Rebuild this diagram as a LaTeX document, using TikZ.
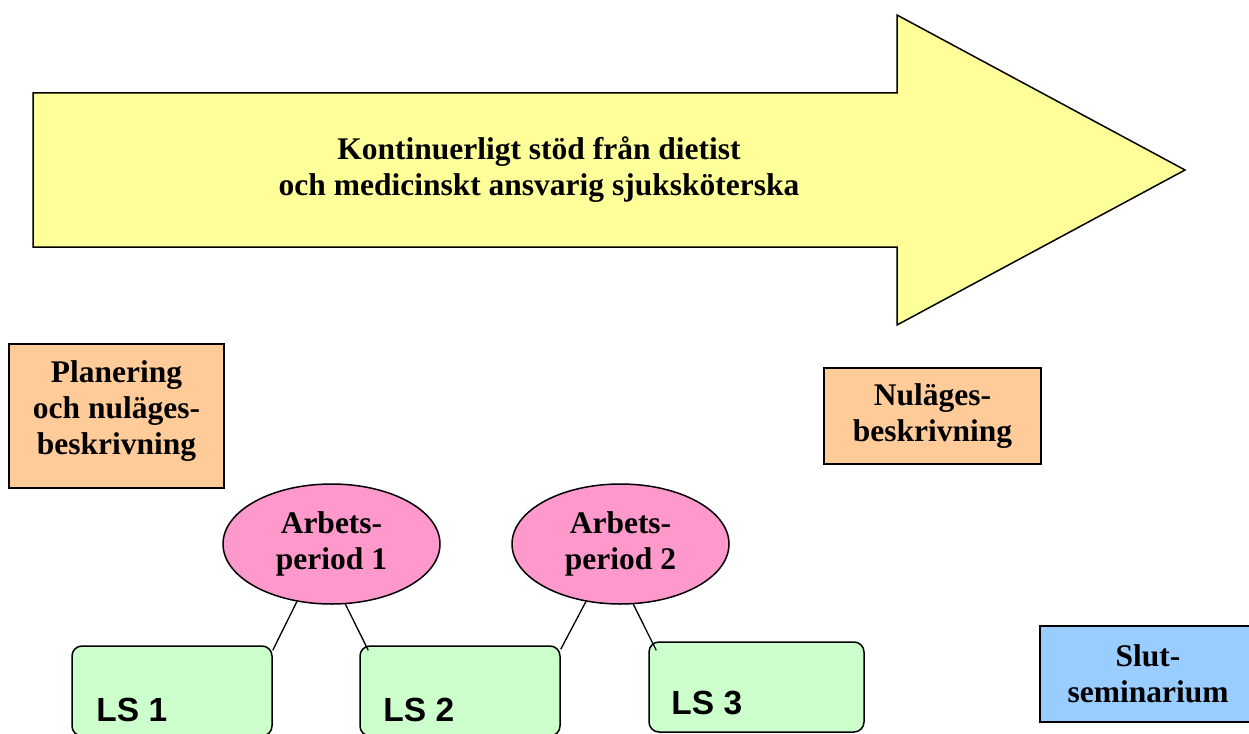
\documentclass[tikz,border=0pt]{standalone}
\usepackage{fontspec}
\setmainfont{Liberation Serif}
\newfontfamily\lsfont{Liberation Sans}
\usetikzlibrary{shapes.geometric}
\definecolor{arrowyellow}{HTML}{FFFF99}
\definecolor{phaseorange}{HTML}{FFCC99}
\definecolor{periodpink}{HTML}{FF99CC}
\definecolor{lsgreen}{HTML}{CCFFCC}
\definecolor{slutblue}{HTML}{99CCFF}

\begin{document}
\begin{tikzpicture}[x=1pt,y=-1pt,
  bigtext/.style={font=\bfseries\fontsize{31.5}{36}\selectfont, align=center},
  phasebox/.style={draw, line width=1.5pt, fill=phaseorange, inner sep=0pt, bigtext},
  periodoval/.style={ellipse, draw, line width=1.5pt, fill=periodpink,
    minimum width=217pt, minimum height=120pt, inner sep=0pt, bigtext},
  lsbox/.style={draw, line width=1.5pt, rounded corners=10pt, fill=lsgreen,
    minimum height=90pt, inner sep=0pt},
  lslabel/.style={anchor=base west, inner sep=0pt,
    font=\lsfont\bfseries\fontsize{33.5}{40}\selectfont},
  link/.style={line width=1.3pt}
]
\useasboundingbox (0,0) rectangle (1249,733);

% big arrow
\draw [line width=1.5pt, fill=arrowyellow]
  (33,93) -- (897,93) -- (897,15) -- (1185,170) -- (897,325) -- (897,247) -- (33,247) -- cycle;
\node [bigtext] (stod) at (539,170) {Kontinuerligt stöd från dietist\\och medicinskt ansvarig sjuksköterska};

% phases
\node [phasebox, minimum width=215pt, minimum height=144pt] (plan) at (116.5,416)
  {\raisebox{5pt}[\height][\depth]{\begin{tabular}{@{}c@{}}Planering\\och nuläges-\\beskrivning\end{tabular}}};
\node [phasebox, minimum width=217pt, minimum height=96pt] (nulage) at (932.5,416)
  {Nuläges-\\beskrivning};
\node [phasebox, fill=slutblue, minimum width=216pt, minimum height=96pt] (slut) at (1148,674)
  {Slut-\\seminarium};

% work periods
\node [periodoval] (ap1) at (331.5,544) {Arbets-\\period 1};
\node [periodoval] (ap2) at (620.5,544) {Arbets-\\period 2};

% LS boxes
\node [lsbox, minimum width=200pt] (ls1) at (172,691) {};
\node [lsbox, minimum width=200pt] (ls2) at (460,691) {};
\node [lsbox, minimum width=215pt] (ls3) at (756.5,687) {};
\node [lslabel] (ls1txt) at ([shift={(25,76)}]ls1.north west) {LS 1};
\node [lslabel] (ls2txt) at ([shift={(24,76)}]ls2.north west) {LS 2};
\node [lslabel] (ls3txt) at ([shift={(23,73)}]ls3.north west) {LS 3};

\draw [link] (ap1.239) -- ([shift={(0,5)}]ls1.north east);
\draw [link] (ap1.283) -- ([shift={(9,5)}]ls2.north west);
\draw [link] (ap2.239) -- ([shift={(0,4)}]ls2.north east);
\draw [link] (ap2.282) -- ([shift={(8,9)}]ls3.north west);
\end{tikzpicture}
\end{document}
